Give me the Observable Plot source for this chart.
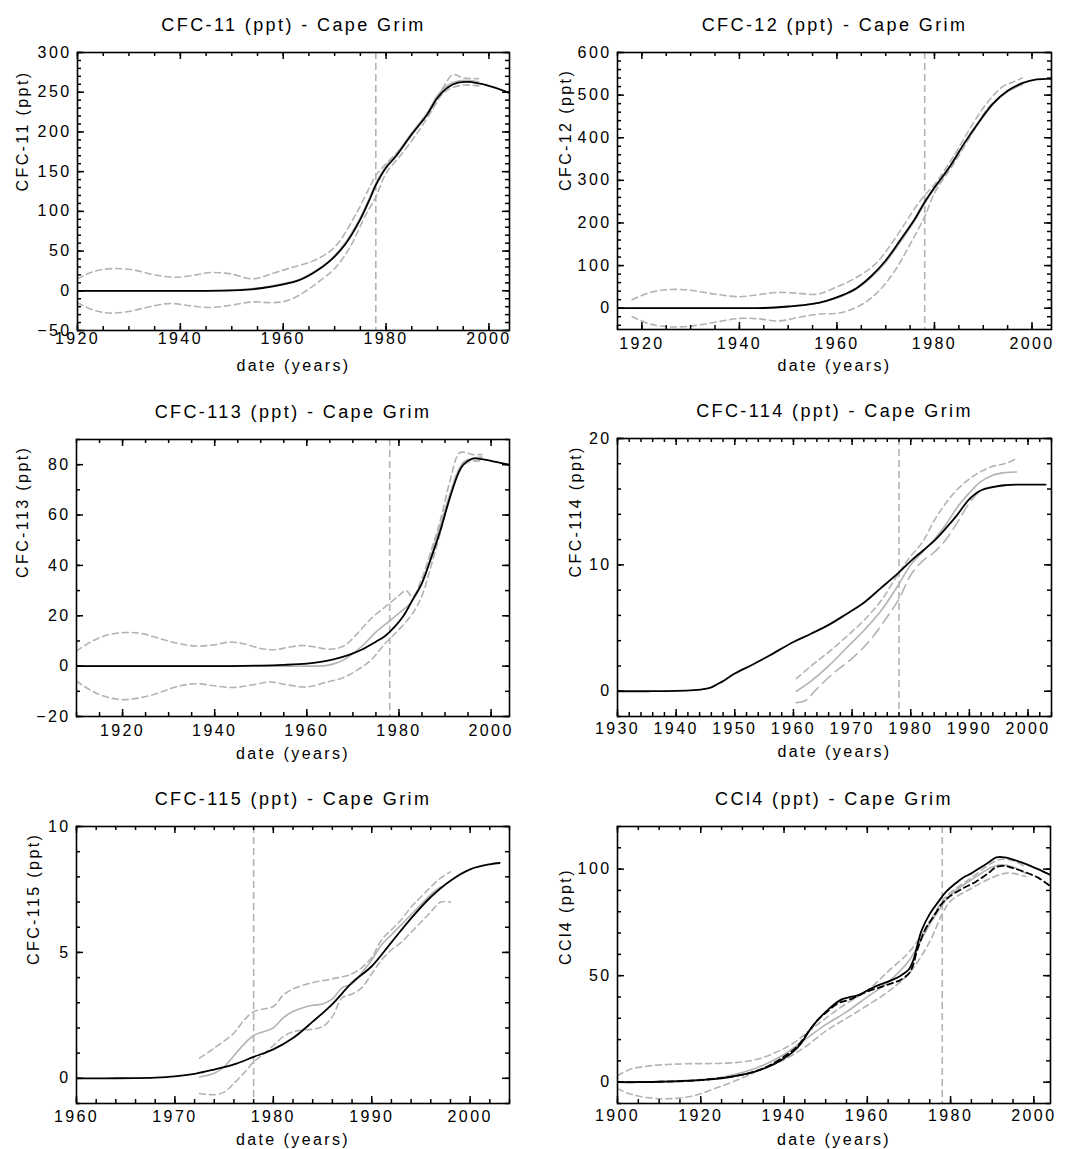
<!DOCTYPE html>
<html>
<head>
<meta charset="utf-8">
<script src="https://cdn.jsdelivr.net/npm/d3@7"></script>
<script src="https://cdn.jsdelivr.net/npm/@observablehq/plot@0.6"></script>
<style>
  body { margin: 0; background: #fff; }
  #root { position: relative; width: 1066px; height: 1149px; background: #fff; }
  .cell { position: absolute; width: 533px; height: 383px; }
</style>
</head>
<body>
<div id="root"></div>
<script>
// ---------------- DATA ----------------
// Vertical marker year
const markerYear = [1978];

// CFC-11
const cfc11XTicks = [1920, 1940, 1960, 1980, 2000];
const cfc11YTicks = [-50, 0, 50, 100, 150, 200, 250, 300];
const cfc11BestYears = [1920,1930,1940,1945,1950,1953,1956,1960,1963,1966,1969,1972,1975,1977,1978,1980,1982,1985,1988,1990,1992,1994,1996,1998,2000,2002,2004];
const cfc11Best      = [0,0,0,0,0.5,1.5,3.5,8,13,23,37,58,90,118,133,155,170,197,222,243,256,262,263,261,258,254,249];
const cfc11MeanYears = [1920,1930,1940,1945,1950,1953,1956,1960,1963,1966,1969,1972,1975,1977,1978,1980,1982,1985,1988,1990,1992,1994,1996,1998];
const cfc11Mean      = [0,0,0,0,0.5,2,4,9,14,24,38,60,92,120,135,157,172,199,224,246,259,264,265,263];
const cfc11HiYears = [1920,1923,1927,1931,1935,1939,1943,1946,1950,1954,1958,1962,1966,1970,1974,1977,1978,1980,1983,1986,1989,1991,1993,1995,1998];
const cfc11Hi      = [15,24,28,26,20,17,20,23,21,15,22,30,38,55,95,133,145,160,180,205,232,255,272,268,267];
const cfc11LoYears = [1920,1923,1926,1930,1934,1938,1942,1946,1950,1954,1958,1961,1964,1967,1970,1973,1976,1978,1980,1983,1986,1989,1991,1993,1995,1998];
const cfc11Lo      = [-15,-24,-28,-26,-20,-16,-19,-21,-18,-14,-15,-12,-2,12,28,55,95,118,148,172,198,228,248,256,259,258];

// CFC-12
const cfc12XTicks = [1920, 1940, 1960, 1980, 2000];
const cfc12YTicks = [0, 100, 200, 300, 400, 500, 600];
const cfc12BestYears = [1915,1920,1930,1940,1945,1950,1955,1958,1961,1964,1967,1970,1973,1976,1978,1980,1983,1986,1989,1992,1995,1998,2001,2004];
const cfc12Best      = [0,0,0,0,0.5,4,10,18,30,47,75,112,160,210,249,283,330,385,435,480,510,528,537,538];
const cfc12MeanYears = [1918,1930,1940,1945,1950,1955,1958,1961,1964,1967,1970,1973,1976,1978,1980,1983,1986,1989,1992,1995,1998];
const cfc12Mean      = [0,0,0,0.5,4,10,17,28,45,72,108,155,206,246,280,328,383,433,478,508,525];
const cfc12HiYears = [1918,1922,1926,1930,1935,1940,1944,1948,1952,1956,1960,1964,1968,1972,1976,1978,1980,1984,1988,1991,1994,1996,1998];
const cfc12Hi      = [20,38,44,42,33,27,32,37,35,33,50,72,105,165,235,265,290,358,435,485,520,530,540];
const cfc12LoYears = [1918,1922,1926,1930,1935,1940,1944,1948,1952,1956,1960,1963,1966,1969,1972,1975,1978,1980,1984,1988,1991,1994,1996,1998];
const cfc12Lo      = [-20,-38,-44,-42,-33,-24,-25,-30,-22,-14,-12,-3,15,45,90,150,215,270,340,415,470,500,515,525];

// CFC-113
const cfc113XTicks = [1920, 1940, 1960, 1980, 2000];
const cfc113YTicks = [-20, 0, 20, 40, 60, 80];
const cfc113BestYears = [1910,1920,1930,1940,1950,1955,1960,1963,1966,1969,1972,1975,1977,1979,1981,1983,1985,1987,1989,1991,1993,1994,1996,1998,2000,2002,2004];
const cfc113Best      = [0,0,0,0,0.2,0.5,1,1.7,2.8,4.4,6.6,9.7,12,15.5,20,26.5,33,43,54,66.5,77,80,82.4,82.2,81.5,80.7,80];
const cfc113MeanYears = [1910,1920,1930,1940,1950,1960,1964,1966,1968,1970,1972,1975,1978,1980,1982,1983,1985,1987,1989,1991,1993,1994,1996,1998];
const cfc113Mean      = [0,0,0,0,0,0,0.2,1,2.5,5,8,13.5,18,21,24,26,33,44,56,68,78,81,82.5,83];
const cfc113HiYears = [1910,1913,1916,1920,1924,1928,1932,1936,1940,1943,1946,1950,1953,1956,1959,1962,1965,1968,1971,1974,1977,1980,1981.5,1983,1985,1987,1989,1991,1993,1994,1996,1998];
const cfc113Hi      = [6,9.5,12,13.3,13,11,9,8,8.5,9.5,9,7,6.5,7.5,8.2,7.5,6.7,8,13,19,23.5,28,30,27.5,35,46,58,73,84.5,85,84,84];
const cfc113LoYears = [1910,1913,1916,1920,1924,1928,1932,1936,1940,1944,1948,1952,1956,1960,1964,1968,1971,1974,1977,1980,1983,1985,1987,1989,1991,1993,1995,1998];
const cfc113Lo      = [-6,-9.5,-12,-13.3,-12.5,-10.5,-8,-7,-7.8,-8.5,-7.5,-6.3,-7.5,-8.3,-6.5,-4.5,-1.5,2.5,9,14.5,21,28,40,53,67,78,81,81.5];

// CFC-114
const cfc114XTicks = [1930, 1940, 1950, 1960, 1970, 1980, 1990, 2000];
const cfc114YTicks = [0, 10, 20];
const cfc114BestYears = [1930,1935,1940,1943,1945,1946,1947,1948,1950,1953,1956,1960,1963,1966,1969,1972,1975,1978,1980,1982,1984,1986,1988,1990,1992,1994,1996,1998,2000,2003];
const cfc114Best      = [0,0,0.02,0.08,0.18,0.3,0.55,0.8,1.4,2.1,2.85,3.9,4.55,5.25,6.1,7.0,8.2,9.4,10.3,11.1,11.9,12.9,14.0,15.2,15.9,16.15,16.3,16.35,16.35,16.35];
const cfc114MeanYears = [1960.5,1963,1966,1969,1972,1975,1978,1980,1982,1984,1986,1988,1990,1992,1994,1996,1998];
const cfc114Mean      = [0,0.8,2.0,3.4,4.8,6.4,8.5,10.0,11.0,12.0,13.2,14.6,15.7,16.6,17.1,17.3,17.35];
const cfc114HiYears = [1960.5,1963,1966,1969,1972,1975,1978,1980,1982,1984,1986,1988,1990,1992,1994,1996,1998];
const cfc114Hi      = [1.0,2.0,3.1,4.3,5.6,7.2,9.4,10.7,11.8,13.5,14.9,16.0,16.8,17.4,17.8,18.0,18.4];
const cfc114LoYears = [1960.5,1962,1964,1967,1970,1973,1976,1978,1980,1982,1984,1986,1988,1990,1992,1994,1996,1998];
const cfc114Lo      = [-0.9,-0.75,0.2,1.5,2.6,4.0,5.9,7.3,9.2,10.3,11.0,12.0,13.4,14.9,15.9,16.2,16.3,16.3];

// CFC-115
const cfc115XTicks = [1960, 1970, 1980, 1990, 2000];
const cfc115YTicks = [0, 5, 10];
const cfc115BestYears = [1960,1963,1966,1968,1970,1972,1974,1976,1978,1980,1982,1984,1986,1988,1990,1992,1994,1996,1998,2000,2002,2003];
const cfc115Best      = [0,0,0.01,0.03,0.08,0.18,0.35,0.55,0.85,1.15,1.6,2.25,2.95,3.8,4.45,5.4,6.35,7.2,7.85,8.3,8.5,8.55];
const cfc115MeanYears = [1972.5,1974,1975,1976,1977,1978,1979,1980,1981,1982,1983,1984,1985,1986,1987,1988,1989,1990,1991,1992,1993,1994,1995,1996,1997];
const cfc115Mean      = [0.05,0.2,0.45,0.9,1.35,1.7,1.85,2.0,2.4,2.65,2.8,2.9,2.95,3.15,3.6,3.75,4.2,4.7,5.3,5.7,6.1,6.5,6.9,7.3,7.6];
const cfc115HiYears = [1972.5,1974,1976,1977,1978,1979,1980,1981,1982,1984,1986,1988,1989,1990,1991,1992,1993,1994,1995,1996,1997,1998];
const cfc115Hi      = [0.8,1.2,1.8,2.3,2.65,2.75,2.85,3.3,3.55,3.8,3.95,4.15,4.4,4.8,5.5,5.9,6.3,6.8,7.2,7.6,7.95,8.2];
const cfc115LoYears = [1972.5,1974,1975,1976,1977,1978,1979,1980,1981,1982,1984,1985,1986,1987,1988,1989,1990,1991,1992,1993,1994,1995,1996,1997,1998];
const cfc115Lo      = [-0.6,-0.65,-0.55,-0.2,0.2,0.65,0.95,1.3,1.65,1.85,1.95,2.05,2.45,3.2,3.35,3.6,4.15,4.7,5.1,5.4,5.8,6.2,6.6,7.0,7.0];

// CCl4
const ccl4XTicks = [1900, 1920, 1940, 1960, 1980, 2000];
const ccl4YTicks = [0, 50, 100];
const ccl4BestYears = [1900,1905,1910,1915,1920,1925,1930,1933,1936,1939,1942,1944,1946,1948,1950,1952,1954,1956,1958,1960,1962,1964,1966,1968,1970,1971,1972,1973,1975,1977,1979,1981,1983,1985,1987,1989,1991,1993,1995,1998,2001,2004];
const ccl4Best      = [0,0,0.2,0.5,1,1.8,3.5,5,7,10,14,18,24,29,33,36.5,39,40,41,43,45,46.5,48,50,53,57,64,71,79,84.5,89.5,93,96,98,100.5,103,105.5,105.5,104.5,102.5,100,97.2];
const ccl4AltYears = [1900,1910,1920,1930,1935,1940,1943,1946,1948,1950,1953,1956,1960,1963,1966,1968,1970,1971,1972,1974,1976,1978,1980,1983,1986,1989,1991,1993,1995,1998,2001,2004];
const ccl4Alt      = [0,0.2,1,3.5,6.5,12,16.5,24,29,32.5,37,39,42.5,44.5,46.5,48,51,55,62,72,78,84,87.5,91,94,98,101,101.5,100.5,98.5,96,92];
const ccl4MeanYears = [1900,1910,1920,1925,1930,1935,1940,1945,1950,1955,1960,1965,1970,1975,1978,1980,1985,1990,1992,1995,1998];
const ccl4Mean      = [0,0.3,1.2,2.3,4.5,8,13,20,27,33,40,47,57,74,83,88,95,101,102,101,98];
const ccl4HiYears = [1900,1903,1907,1912,1918,1924,1930,1934,1938,1942,1946,1950,1955,1960,1965,1970,1974,1978,1980,1985,1990,1992,1995,1998];
const ccl4Hi      = [3,6,7.5,8.3,8.7,8.8,9.5,11,14,18,24,30,37,43,52,61,72,85,89,96,103,104.5,104,101];
const ccl4LoYears = [1900,1903,1907,1912,1918,1924,1930,1935,1940,1945,1950,1955,1960,1965,1970,1975,1978,1980,1985,1990,1993,1995,1998];
const ccl4Lo      = [-3,-5.5,-7.2,-7.8,-6.5,-2.5,2,6.5,10.5,16.5,24,30,36,42.5,51,66,79,85,91,96,98,98,96.5];

// ---------------- STYLE ----------------
const BLACK = "#000000";
const GRAY = "#b3b3b3";
const FONT = "'Liberation Sans', Arial, sans-serif";

const solidBlack = {stroke: BLACK, strokeWidth: 1.8};
const dashBlack = {stroke: BLACK, strokeWidth: 1.8, strokeDasharray: "6,4"};
const solidGray = {stroke: GRAY, strokeWidth: 1.6};
const dashGray = {stroke: GRAY, strokeWidth: 1.6, strokeDasharray: "6,4"};
const longDashGray = {stroke: GRAY, strokeWidth: 1.6, strokeDasharray: "11,6"};

const pts = (xs, ys) => xs.map((x, i) => ({x, y: ys[i]}));

const panels = [
  {col: 0, row: 0, title: "CFC-11 (ppt) - Cape Grim", ylabel: "CFC-11 (ppt)",
   xDomain: [1920, 2004], yDomain: [-50, 300], xTicks: cfc11XTicks, yTicks: cfc11YTicks,
   xMinor: 5, yMinor: 10, ml: 77, mr: 24, mt: 52, mb: 53, xPad: 2, yLabOff: 55, xLabOff: 35,
   series: [[cfc11HiYears, cfc11Hi, dashGray], [cfc11LoYears, cfc11Lo, dashGray],
            [cfc11MeanYears, cfc11Mean, solidGray], [cfc11BestYears, cfc11Best, solidBlack]]},
  {col: 1, row: 0, title: "CFC-12 (ppt) - Cape Grim", ylabel: "CFC-12 (ppt)",
   xDomain: [1915, 2004], yDomain: [-50, 600], xTicks: cfc12XTicks, yTicks: cfc12YTicks,
   xMinor: 5, yMinor: 20, ml: 84, mr: 15, mt: 52, mb: 54, xPad: 8, yLabOff: 52, xLabOff: 36,
   series: [[cfc12HiYears, cfc12Hi, dashGray], [cfc12LoYears, cfc12Lo, dashGray],
            [cfc12MeanYears, cfc12Mean, solidGray], [cfc12BestYears, cfc12Best, solidBlack]]},
  {col: 0, row: 1, title: "CFC-113 (ppt) - Cape Grim", ylabel: "CFC-113 (ppt)",
   xDomain: [1910, 2004], yDomain: [-20, 90], xTicks: cfc113XTicks, yTicks: cfc113YTicks,
   xMinor: 5, yMinor: 10, ml: 76, mr: 24, mt: 56, mb: 50, xPad: 8, yLabOff: 54, xLabOff: 37,
   series: [[cfc113HiYears, cfc113Hi, dashGray], [cfc113LoYears, cfc113Lo, dashGray],
            [cfc113MeanYears, cfc113Mean, solidGray], [cfc113BestYears, cfc113Best, solidBlack]]},
  {col: 1, row: 1, title: "CFC-114 (ppt) - Cape Grim", ylabel: "CFC-114 (ppt)",
   xDomain: [1930, 2004], yDomain: [-2, 20], xTicks: cfc114XTicks, yTicks: cfc114YTicks,
   xMinor: 2, yMinor: 2, ml: 84, mr: 15, mt: 55, mb: 50, xPad: 6, yLabOff: 42, xLabOff: 35,
   series: [[cfc114HiYears, cfc114Hi, dashGray], [cfc114LoYears, cfc114Lo, longDashGray],
            [cfc114MeanYears, cfc114Mean, solidGray], [cfc114BestYears, cfc114Best, solidBlack]]},
  {col: 0, row: 2, title: "CFC-115 (ppt) - Cape Grim", ylabel: "CFC-115 (ppt)",
   xDomain: [1960, 2004], yDomain: [-1, 10], xTicks: cfc115XTicks, yTicks: cfc115YTicks,
   xMinor: 2, yMinor: 1, ml: 76, mr: 24, mt: 60, mb: 46, xPad: 7, yLabOff: 43, xLabOff: 36,
   series: [[cfc115HiYears, cfc115Hi, dashGray], [cfc115LoYears, cfc115Lo, dashGray],
            [cfc115MeanYears, cfc115Mean, solidGray], [cfc115BestYears, cfc115Best, solidBlack]]},
  {col: 1, row: 2, title: "CCl4 (ppt) - Cape Grim", ylabel: "CCl4 (ppt)",
   xDomain: [1900, 2004], yDomain: [-10, 120], xTicks: ccl4XTicks, yTicks: ccl4YTicks,
   xMinor: 5, yMinor: 10, ml: 84, mr: 16, mt: 60, mb: 46, xPad: 6, yLabOff: 52, xLabOff: 36,
   series: [[ccl4HiYears, ccl4Hi, dashGray], [ccl4LoYears, ccl4Lo, dashGray],
            [ccl4MeanYears, ccl4Mean, solidGray], [ccl4AltYears, ccl4Alt, dashBlack],
            [ccl4BestYears, ccl4Best, solidBlack]]}
];

const W = 533, H = 383;
const minorTicks = ([a, b], step) => d3.range(Math.ceil(a / step - 1e-9) * step, b + 1e-9, step);

function makePanel(p) {
  const innerW = W - p.ml - p.mr, innerH = H - p.mt - p.mb;
  const [x0, x1] = p.xDomain, [y0, y1] = p.yDomain;
  const kx = (x1 - x0) / innerW, ky = (y1 - y0) / innerH; // data units per pixel
  const majLen = 7, minLen = 4;
  const xMin = minorTicks(p.xDomain, p.xMinor), yMin = minorTicks(p.yDomain, p.yMinor);
  const tk = {stroke: BLACK, strokeWidth: 1.5};
  const xTickMarks = (vals, len) => [
    Plot.ruleX(vals, {x: d => d, y1: y0, y2: y0 + len * ky, ...tk}),
    Plot.ruleX(vals, {x: d => d, y1: y1, y2: y1 - len * ky, ...tk})
  ];
  const yTickMarks = (vals, len) => [
    Plot.ruleY(vals, {y: d => d, x1: x0, x2: x0 + len * kx, ...tk}),
    Plot.ruleY(vals, {y: d => d, x1: x1, x2: x1 - len * kx, ...tk})
  ];
  const marks = [
    Plot.ruleX(markerYear, {x: d => d, stroke: GRAY, strokeWidth: 1.6, strokeDasharray: "7,4"}),
    ...p.series.map(([xs, ys, st]) => Plot.line(pts(xs, ys), {x: "x", y: "y", curve: "catmull-rom", clip: true, ...st})),
    ...xTickMarks(xMin, minLen), ...xTickMarks(p.xTicks, majLen),
    ...yTickMarks(yMin, minLen), ...yTickMarks(p.yTicks, majLen),
    Plot.frame({stroke: BLACK, strokeWidth: 1.6}),
    Plot.axisX({ticks: p.xTicks, tickSize: 0, tickPadding: p.xPad, tickFormat: "d", label: null, fill: BLACK}),
    Plot.axisY({ticks: p.yTicks, tickSize: 0, tickPadding: 6, tickFormat: "d", label: null, fill: BLACK}),
    Plot.text([p.title], {text: d => d, frameAnchor: "top", dy: -27, fontSize: 18, lineAnchor: "middle", fill: BLACK}),
    Plot.text(["date (years)"], {text: d => d, frameAnchor: "bottom", dy: p.xLabOff, lineAnchor: "middle", fill: BLACK}),
    Plot.text([p.ylabel], {text: d => d, frameAnchor: "left", dx: -p.yLabOff, rotate: -90, lineAnchor: "middle", fill: BLACK})
  ];
  return Plot.plot({
    width: W, height: H,
    marginLeft: p.ml, marginRight: p.mr, marginTop: p.mt, marginBottom: p.mb,
    x: {domain: p.xDomain},
    y: {domain: p.yDomain},
    style: {fontFamily: FONT, fontSize: "16px", letterSpacing: "2.4px", background: "#fff", color: BLACK, overflow: "visible"},
    marks
  });
}

const root = document.getElementById("root");
for (const p of panels) {
  const cell = document.createElement("div");
  cell.className = "cell";
  cell.style.left = (p.col * 533) + "px";
  cell.style.top = (p.row * 383) + "px";
  cell.appendChild(makePanel(p));
  root.appendChild(cell);
}
</script>
</body>
</html>
